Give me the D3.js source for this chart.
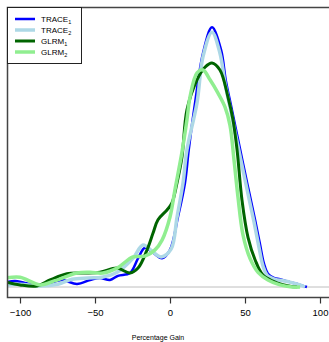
<!DOCTYPE html>
<html lang="en">
<head>
<meta charset="utf-8">
<title>Percentage Gain densities</title>
<script src="https://cdn.jsdelivr.net/npm/d3@7"></script>
<style>
body { margin: 0; background: #fff; }
svg { font-family: "Liberation Sans", Arial, sans-serif; }
.axis text { font-size: 9.5px; fill: #000; }
.axis line { stroke: #333; }
</style>
</head>
<body>
<script>
var w = 329, h = 342;

var seriesNames = ["TRACE", "TRACE", "GLRM", "GLRM"];
var seriesSubs = ["1", "2", "1", "2"];
var seriesColors = ["#0000ff", "#add8e6", "#006400", "#90ee90"];
var seriesWidths = [2.5, 3.5, 3, 3.5];
var xTicks = [-100, -50, 0, 50, 100];

// percentage gain, density
var trace1 = [[-108.7,0.0007],[-103.3,0.00086],[-96.7,0.00057],[-88,0.00029],[-80,0.00057],[-72,0.001],
  [-62,0.00043],[-53.3,0.001],[-46.7,0.0013],[-40,0.001],[-34.7,0.0016],[-26.7,0.002],[-21.3,0.0041],
  [-16.7,0.0056],[-11.3,0.0049],[-5.3,0.0041],[0,0.0053],[5.3,0.01],[10,0.0149],[12.5,0.0196],[16.7,0.0263],
  [22,0.0334],[28,0.0371],[34,0.0339],[37.3,0.0294],[41.3,0.0253],[46.7,0.0197],[52,0.0143],[56.7,0.0096],
  [60,0.0061],[62.7,0.0033],[65.3,0.0019],[69.3,0.0013],[73.3,0.0011],[80,0.0007],[86.7,0.0003],[91.3,0]];

var trace2 = [[-108.7,0.0003],[-100,0.0004],[-86.7,0.00014],[-74.7,0.0004],[-65.3,0.0011],[-54.7,0.0013],
  [-45.3,0.0014],[-35.3,0.0021],[-24.7,0.0041],[-18,0.006],[-11.3,0.005],[-6,0.0043],[0.7,0.0054],
  [4.7,0.01],[8.7,0.0149],[11.3,0.0196],[18,0.0263],[22,0.0329],[28,0.0364],[33.3,0.0334],[36.7,0.0291],
  [40.7,0.025],[46,0.0194],[51.3,0.014],[56,0.0093],[59.3,0.0057],[62,0.003],[64.7,0.0017],[70,0.0011],
  [75.3,0.0009],[80,0.0007],[86.7,0.0003],[90,0]];

var glrm1 = [[-108.7,0.0007],[-100,0.0003],[-88.7,0.00014],[-80,0.001],[-68.7,0.0019],[-58,0.002],
  [-46.7,0.0021],[-35.3,0.0027],[-26.7,0.002],[-21.3,0.0027],[-15.3,0.0053],[-11.3,0.0077],[-8,0.0096],
  [-2,0.011],[1.3,0.012],[4.7,0.0149],[8,0.0186],[11.3,0.0253],[18,0.0296],[23.3,0.0314],[28,0.032],
  [33.3,0.031],[38.7,0.0271],[42,0.0239],[44.7,0.0196],[48,0.0124],[52,0.0071],[56.7,0.0039],
  [62,0.0017],[71.3,0.0006],[80,0.0001],[84.7,0]];

var glrm2 = [[-108.7,0.0013],[-100,0.0014],[-86.7,0.0003],[-76.7,0.0009],[-62,0.002],[-53.3,0.0021],
  [-44.7,0.002],[-35.3,0.0027],[-24.7,0.0043],[-16.7,0.0044],[-10,0.0053],[-5.3,0.0067],[0,0.01],
  [3.3,0.0139],[8,0.0193],[11.3,0.0239],[13.3,0.0271],[18,0.0306],[22,0.031],[26.7,0.0296],[32,0.0277],
  [36.7,0.0257],[40,0.0231],[42.7,0.0181],[45.3,0.0129],[48.7,0.0074],[53.3,0.0041],[58.7,0.0021],
  [65.3,0.001],[73.3,0.0003],[81.3,0],[86.7,0]];

var series = [trace1, trace2, glrm1, glrm2];

var xScale = d3.scaleLinear().domain([-100, 100]).range([20, 320]);
var yScale = d3.scaleLinear().domain([0, 0.04]).range([287, 7]);

var svg = d3.select("body").append("svg")
  .attr("width", w)
  .attr("height", h);

svg.append("clipPath").attr("id", "plot")
  .append("rect").attr("x", 7).attr("y", 7).attr("width", w - 7).attr("height", 290);

// zero line
svg.append("line")
  .attr("x1", 7).attr("x2", w)
  .attr("y1", yScale(0)).attr("y2", yScale(0))
  .attr("stroke", "#bebebe").attr("stroke-width", 1);

var line = d3.line()
  .x(function (d) { return xScale(d[0]); })
  .y(function (d) { return yScale(d[1]); })
  .curve(d3.curveCatmullRom.alpha(0.5));

var g = svg.append("g").attr("clip-path", "url(#plot)");
series.forEach(function (s, i) {
  g.append("path")
    .datum(s)
    .attr("fill", "none")
    .attr("stroke", seriesColors[i])
    .attr("stroke-width", seriesWidths[i])
    .attr("stroke-linejoin", "round")
    .attr("d", line);
});

// frame (left, top, bottom)
svg.append("path")
  .attr("d", "M" + w + ",7.5H7.5V297.5H" + w)
  .attr("fill", "none")
  .attr("stroke", "#444")
  .attr("stroke-width", 1.5);

// x axis
var xAxis = svg.append("g")
  .attr("class", "axis")
  .attr("transform", "translate(0,297.5)")
  .call(d3.axisBottom(xScale).tickValues(xTicks).tickSize(6).tickPadding(6).tickSizeOuter(0));
xAxis.select(".domain").remove();
xAxis.selectAll("line").attr("stroke-width", 1.2);

svg.append("text")
  .text("Percentage Gain")
  .attr("x", 158)
  .attr("y", 340)
  .attr("text-anchor", "middle")
  .attr("fill", "#000")
  .attr("font-size", "7px");

// legend
var legend = svg.append("g");
legend.append("rect")
  .attr("x", 7.5).attr("y", 7.5).attr("width", 74).attr("height", 56)
  .attr("fill", "#fff").attr("stroke", "#222").attr("stroke-width", 1);

seriesNames.forEach(function (name, i) {
  var yy = 19 + i * 11;
  legend.append("line")
    .attr("x1", 15).attr("x2", 35)
    .attr("y1", yy).attr("y2", yy)
    .attr("stroke", seriesColors[i])
    .attr("stroke-width", seriesWidths[i]);
  var t = legend.append("text")
    .attr("x", 41).attr("y", yy + 3)
    .attr("fill", "#000")
    .attr("font-size", "8px");
  t.append("tspan").text(name);
  t.append("tspan").text(seriesSubs[i]).attr("font-size", "5.5px").attr("dy", 2);
});
</script>
</body>
</html>
